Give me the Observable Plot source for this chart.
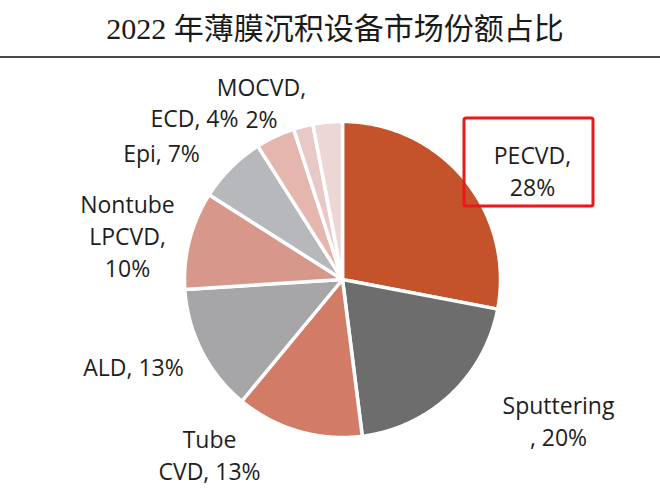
<!DOCTYPE html>
<html>
<head>
<meta charset="utf-8">
<script src="https://cdn.jsdelivr.net/npm/d3@7"></script>
<script src="https://cdn.jsdelivr.net/npm/@observablehq/plot@0.6"></script>
<style>
  html, body { margin: 0; padding: 0; background: #ffffff; }
  #wrap { width: 660px; height: 488px; overflow: hidden; }
  #title {
    height: 58px; line-height: 58px; text-align: center;
    font-family: "Liberation Serif", "Noto Sans CJK SC", serif;
    font-size: 30px; color: #1a1a1a; padding-left: 10px; box-sizing: border-box;
    border-bottom: 2px solid #4a4a4a;
  }
</style>
</head>
<body>
<div id="wrap">
  <div id="title">2022 年薄膜沉积设备市场份额占比</div>
  <div id="chart"></div>
</div>
<script>
// ---- data ----
const categories = ["PECVD", "Sputtering", "Tube CVD", "ALD", "Nontube LPCVD", "Epi", "ECD", "MOCVD", "Other"];
const shares = [28, 20, 13, 13, 10, 7, 4, 2, 3];
const labelTemplates = ["PECVD,\n{v}%", "Sputtering\n, {v}%", "Tube\nCVD, {v}%", "ALD, {v}%", "Nontube\nLPCVD,\n{v}%", "Epi, {v}%", "ECD, {v}%", "MOCVD,\n{v}%", ""];
const highlighted = "PECVD";

// ---- style / layout ----
const colors = ["#C4522A", "#6D6D6D", "#D27B66", "#A6A6A8", "#D8978B", "#B7B8BB", "#E4B6AD", "#E9C9C8", "#EDD6D6"];
const W = 660, H = 428;
const cx = 342, cy = 221, R = 158;     // pie centre / radius in svg px
// label anchors (svg px) chosen to match the layout of the original
const labelAnchors = {
  "PECVD": [532, 111], "Sputtering": [558, 361], "Tube CVD": [209, 395],
  "ALD": [133, 307], "Nontube LPCVD": [127, 176], "Epi": [161, 93],
  "ECD": [194, 58], "MOCVD": [261, 43]
};
const boxPx = {x1: 464, x2: 593, y1: 60, y2: 148};

const toX = px => (px - cx) / R;
const toY = py => (cy - py) / R;

// ---- build slices with d3.pie ----
const pie = d3.pie().sort(null).value(d => d.value);
const arcs = pie(categories.map((c, i) => ({name: c, value: shares[i], color: colors[i]})));

const slicePts = [];
for (const a of arcs) {
  const pts = [{name: a.data.name, x: 0, y: 0}];
  const n = Math.max(2, Math.ceil((a.endAngle - a.startAngle) / (Math.PI / 360)));
  for (let k = 0; k <= n; k++) {
    const t = a.startAngle + (a.endAngle - a.startAngle) * k / n;
    pts.push({name: a.data.name, x: Math.sin(t), y: Math.cos(t)});
  }
  pts.push({name: a.data.name, x: 0, y: 0});
  slicePts.push({name: a.data.name, color: a.data.color, pts});
}

const labels = categories.map((c, i) => ({
  name: c,
  text: labelTemplates[i].replace("{v}", shares[i]),
  x: labelAnchors[c] ? toX(labelAnchors[c][0]) : null,
  y: labelAnchors[c] ? toY(labelAnchors[c][1]) : null
})).filter(d => d.text && d.x != null);

const box = [{x1: toX(boxPx.x1), x2: toX(boxPx.x2), y1: toY(boxPx.y2), y2: toY(boxPx.y1), name: highlighted}];

const marks = slicePts.map(s => Plot.line(s.pts, {
  x: "x", y: "y", fill: s.color, stroke: "#ffffff", strokeWidth: 3.5, strokeLinejoin: "round", curve: "linear"
}));
marks.push(Plot.text(labels, {
  x: "x", y: "y", text: "text", fontSize: 23, lineHeight: 1.4, fill: "#1e1e1e",
  fontFamily: "'Open Sans', 'Noto Sans', sans-serif", textAnchor: "middle", lineAnchor: "middle"
}));
marks.push(Plot.rect(box, {
  x1: "x1", x2: "x2", y1: "y1", y2: "y2", fill: "none", stroke: "#E8191B", strokeWidth: 3, rx: 2
}));

const chart = Plot.plot({
  width: W, height: H,
  marginTop: 0, marginBottom: 0, marginLeft: 0, marginRight: 0,
  x: {domain: [toX(0), toX(W)], axis: null},
  y: {domain: [toY(H), toY(0)], axis: null},
  style: {background: "#ffffff", overflow: "visible"},
  marks
});
document.getElementById("chart").appendChild(chart);
</script>
</body>
</html>
